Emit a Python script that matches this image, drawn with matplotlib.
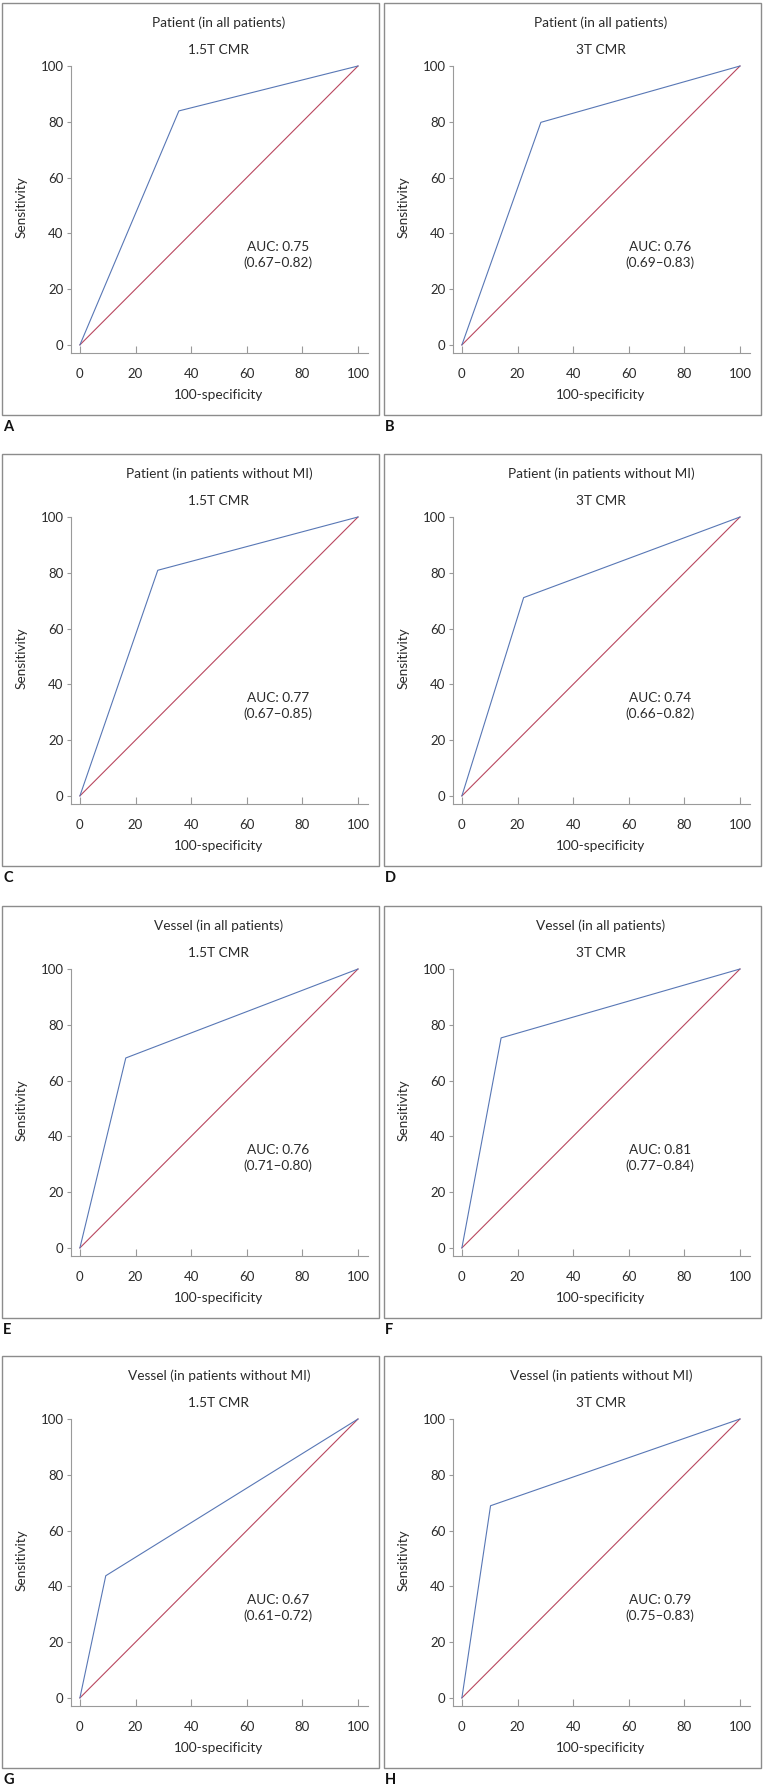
import matplotlib.pyplot as plt
from matplotlib.patches import Rectangle

plt.rcParams['font.family'] = ['Lato', 'DejaVu Sans']

# ROC knee points (100-specificity, sensitivity)
PanelLetters = ["A", "B", "C", "D", "E", "F", "G", "H"]
Titles = ["Patient (in all patients)", "Patient (in all patients)",
          "Patient (in patients without MI)", "Patient (in patients without MI)",
          "Vessel (in all patients)", "Vessel (in all patients)",
          "Vessel (in patients without MI)", "Vessel (in patients without MI)"]
Scanners = ["1.5T CMR", "3T CMR"] * 4
KneeX = [35.6, 28.4, 28.0, 22.2, 16.5, 14.1, 9.3, 10.3]
KneeY = [83.9, 79.8, 80.9, 71.1, 68.1, 75.3, 43.8, 68.9]
AUC = ["0.75", "0.76", "0.77", "0.74", "0.76", "0.81", "0.67", "0.79"]
CI = ["(0.67\u20130.82)", "(0.69\u20130.83)", "(0.67\u20130.85)", "(0.66\u20130.82)",
      "(0.71\u20130.80)", "(0.77\u20130.84)", "(0.61\u20130.72)", "(0.75\u20130.83)"]
Ticks = [0, 20, 40, 60, 80, 100]

W, H = 764, 1788
fig = plt.figure(figsize=(W / 100, H / 100), dpi=100)

def fx(px):
    return px / W

def fy(py):
    return 1 - py / H

ColLeft = [0, 382]
RowTop = [3, 454, 906, 1356]
Blue = "#5877b5"
Red = "#b9475f"
Gray = "#9a9a9a"
TextCol = "#2b2b2b"

for i in range(8):
    c = ColLeft[i % 2]
    r = RowTop[i // 2]
    # panel frame
    fig.patches.append(Rectangle((fx(c + 2), fy(r + 412)), fx(377), 412 / H,
                                 transform=fig.transFigure, fill=False,
                                 edgecolor="#8c8c8c", linewidth=1.0))
    ax = fig.add_axes([fx(c + 71), fy(r + 350), fx(297), 287 / H])
    ax.plot([0, 100], [0, 100], color=Red, linewidth=0.8, clip_on=False)
    ax.plot([0, KneeX[i], 100], [0, KneeY[i], 100], color=Blue, linewidth=0.8, clip_on=False)
    ax.set_xlim(-3.2, 103.6)
    ax.set_ylim(-2.9, 100)
    ax.set_xticks(Ticks)
    ax.set_yticks(Ticks)
    ax.spines['top'].set_visible(False)
    ax.spines['right'].set_visible(False)
    ax.spines['left'].set_color(Gray)
    ax.spines['bottom'].set_color(Gray)
    ax.tick_params(axis='x', direction='in', length=5, color=Gray, pad=11,
                   labelsize=9.5, labelcolor=TextCol)
    ax.tick_params(axis='y', direction='out', length=3, color=Gray, pad=2.5,
                   labelsize=9.5, labelcolor=TextCol)
    ax.patch.set_visible(False)
    ax.text(71.3, 35.1, "AUC: " + AUC[i], ha='center', va='center', fontsize=9.8, color=TextCol)
    ax.text(71.3, 29.3, CI[i], ha='center', va='center', fontsize=9.8, color=TextCol)

    fig.text(fx(c + 219), fy(r + 20), Titles[i], ha='center', va='center', fontsize=9.8, color=TextCol)
    fig.text(fx(c + 219), fy(r + 47), Scanners[i], ha='center', va='center', fontsize=9.8, color=TextCol)
    fig.text(fx(c + 219), fy(r + 392), "100-specificity", ha='center', va='center', fontsize=9.8, color=TextCol)
    fig.text(fx(c + 22), fy(r + 204), "Sensitivity", ha='center', va='center', rotation=90,
             fontsize=9.8, color=TextCol)
    fig.text(fx(c + 3), fy(r + 424), PanelLetters[i], ha='left', va='center', fontsize=10.5,
             fontweight='bold', color="#111111")

plt.savefig("out.png", dpi=100)
